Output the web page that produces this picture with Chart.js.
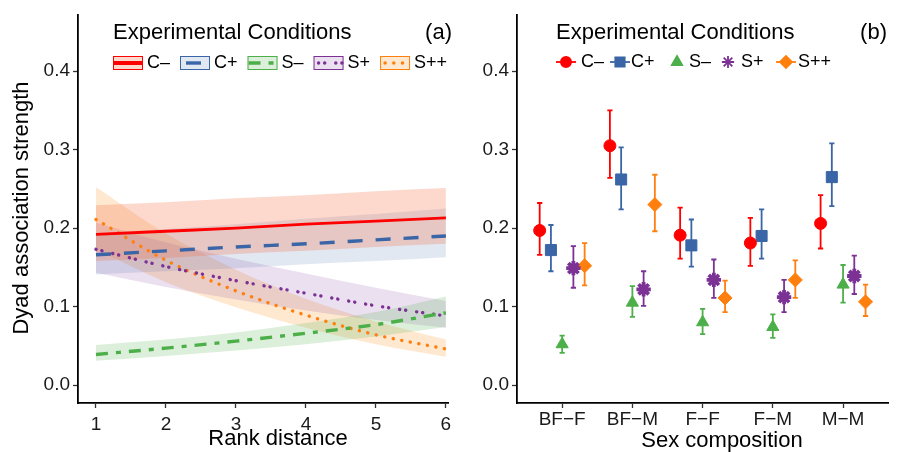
<!DOCTYPE html>
<html>
<head>
<meta charset="utf-8">
<script src="https://cdn.jsdelivr.net/npm/chart.js@4.4.1/dist/chart.umd.min.js"></script>
<style>
  body { margin: 0; background: #fff; }
  #wrap { position: relative; width: 899px; height: 452px; }
  #chartA { position: absolute; left: 0; top: 0; }
  #chartB { position: absolute; left: 460px; top: 0; }
</style>
</head>
<body>
<div id="wrap">
  <canvas id="chartA" width="460" height="452"></canvas>
  <canvas id="chartB" width="439" height="452"></canvas>
</div>
<script>
'use strict';

const conditions = ['C–', 'C+', 'S–', 'S+', 'S++'];
const yTicks = [0, 0.1, 0.2, 0.3, 0.4];

// Panel (a): fitted association strength against rank distance
const rankDistance = [1, 2, 3, 4, 5, 6];
const fitCminus = [0.192, 0.196, 0.200, 0.205, 0.209, 0.213];
const fitCplus  = [0.166, 0.171, 0.176, 0.180, 0.185, 0.190];
const fitSminus = [0.039, 0.047, 0.056, 0.066, 0.077, 0.092];
const fitSplus  = [0.173, 0.151, 0.133, 0.117, 0.101, 0.088];
const fitSplus2 = [0.211, 0.159, 0.120, 0.089, 0.064, 0.046];
// confidence bands (lower / upper)
const loCminus = [0.158, 0.162, 0.167, 0.171, 0.176, 0.180];
const hiCminus = [0.229, 0.233, 0.238, 0.242, 0.247, 0.251];
const loCplus  = [0.141, 0.145, 0.149, 0.154, 0.158, 0.163];
const hiCplus  = [0.193, 0.199, 0.205, 0.212, 0.218, 0.225];
const loSminus = [0.031, 0.037, 0.044, 0.052, 0.062, 0.074];
const hiSminus = [0.051, 0.058, 0.067, 0.079, 0.093, 0.113];
const loSplus  = [0.143, 0.125, 0.109, 0.095, 0.083, 0.073];
const hiSplus  = [0.207, 0.182, 0.161, 0.142, 0.124, 0.107];
const loSplus2 = [0.173, 0.131, 0.099, 0.073, 0.052, 0.036];
const hiSplus2 = [0.252, 0.193, 0.147, 0.110, 0.081, 0.058];

// Panel (b): mean and interval by sex composition
const sexComposition = ['BF−F', 'BF−M', 'F−F', 'F−M', 'M−M'];
const meanCminus = [0.197, 0.305, 0.191, 0.181, 0.206];
const lowCminus  = [0.166, 0.264, 0.161, 0.152, 0.174];
const highCminus = [0.232, 0.350, 0.226, 0.213, 0.242];
const meanCplus  = [0.172, 0.262, 0.178, 0.190, 0.265];
const lowCplus   = [0.145, 0.224, 0.151, 0.161, 0.228];
const highCplus  = [0.204, 0.303, 0.211, 0.224, 0.308];
const meanSminus = [0.052, 0.105, 0.080, 0.074, 0.128];
const lowSminus  = [0.041, 0.087, 0.065, 0.060, 0.105];
const highSminus = [0.063, 0.126, 0.097, 0.090, 0.153];
const meanSplus  = [0.149, 0.122, 0.134, 0.112, 0.139];
const lowSplus   = [0.124, 0.101, 0.111, 0.093, 0.116];
const highSplus  = [0.177, 0.145, 0.160, 0.134, 0.165];
const meanSplus2 = [0.152, 0.230, 0.111, 0.134, 0.106];
const lowSplus2  = [0.127, 0.196, 0.093, 0.111, 0.088];
const highSplus2 = [0.181, 0.268, 0.133, 0.159, 0.128];

// styling
const colors = ['#FF0000', '#3A65A6', '#4DAF4A', '#7B3294', '#FF7F0E'];
const bandColors = ['rgba(245,110,70,0.27)', 'rgba(58,101,166,0.15)', 'rgba(77,175,74,0.2)', 'rgba(123,50,148,0.15)', 'rgba(255,150,40,0.22)'];
const dashes = [[], [15, 13], [12, 8, 5, 8], [0.1, 6, 0.1, 11], [0.1, 8.6]];
const widths = [2.8, 3.4, 3.4, 3.4, 3.4];
const pointStyles = ['circle', 'rect', 'triangle', 'star', 'rectRot'];
const pointSizes = [6, 7.8, 7, 7.2, 7];
const dodge = [-0.32, -0.16, 0, 0.16, 0.32];
const FONT = '"Liberation Sans", Arial, sans-serif';

const fits = [fitCminus, fitCplus, fitSminus, fitSplus, fitSplus2];
const los = [loCminus, loCplus, loSminus, loSplus, loSplus2];
const his = [hiCminus, hiCplus, hiSminus, hiSplus, hiSplus2];
const means = [meanCminus, meanCplus, meanSminus, meanSplus, meanSplus2];
const lows = [lowCminus, lowCplus, lowSminus, lowSplus, lowSplus2];
const highs = [highCminus, highCplus, highSminus, highSplus, highSplus2];

function xy(arr) {
    return rankDistance.map((x, j) => ({x: x, y: arr[j]}));
}

function yScale(width) {
    return {
        type: 'linear',
        min: -0.0229,
        max: 0.4724,
        afterBuildTicks: s => { s.ticks = yTicks.map(v => ({value: v})); },
        afterFit: s => { s.width = width; },
        ticks: {color: '#1a1a1a', font: {family: FONT, size: 19}, padding: 3, callback: v => v.toFixed(1)},
        grid: {drawOnChartArea: false, color: '#333', tickLength: 5, tickWidth: 1.3},
        border: {color: '#000', width: 1.8}
    };
}

// ---------- panel (a) ----------
let datasetsA = [];
conditions.forEach(function(name, i) {
    datasetsA.push({label: name, data: xy(fits[i]), borderColor: colors[i], borderWidth: widths[i],
        borderDash: dashes[i], borderCapStyle: i >= 3 ? 'round' : 'butt', pointRadius: 0, fill: false, order: 0});
});
conditions.forEach(function(name, i) {
    datasetsA.push({label: name + ' low', data: xy(los[i]), borderWidth: 0, pointRadius: 0, fill: false, order: 1});
    datasetsA.push({label: name + ' high', data: xy(his[i]), borderWidth: 0, pointRadius: 0, fill: '-1',
        backgroundColor: bandColors[i], order: 1});
});

const decorA = {
    id: 'decorA',
    afterDraw(chart) {
        const ctx = chart.ctx;
        ctx.save();
        ctx.fillStyle = '#000';
        ctx.textBaseline = 'middle';
        ctx.font = '22px ' + FONT;
        ctx.textAlign = 'left';
        ctx.fillText('Experimental Conditions', 113, 33);
        ctx.textAlign = 'right';
        ctx.fillText('(a)', 452, 33);
        ctx.textAlign = 'center';
        ctx.fillText('Rank distance', 278, 439);
        ctx.save();
        ctx.translate(22, 208);
        ctx.rotate(-Math.PI / 2);
        ctx.fillText('Dyad association strength', 0, 0);
        ctx.restore();

        // legend keys
        ctx.font = '18px ' + FONT;
        ctx.textAlign = 'left';
        let x = 113;
        const y = 63;
        conditions.forEach(function(name, i) {
            ctx.fillStyle = bandColors[i];
            ctx.fillRect(x, y - 7, 30, 14);
            ctx.strokeStyle = colors[i];
            ctx.lineWidth = 1;
            ctx.setLineDash([]);
            ctx.strokeRect(x + 0.5, y - 6.5, 29, 13);
            ctx.beginPath();
            ctx.lineWidth = i === 0 ? 4 : widths[i];
            ctx.lineCap = i >= 3 ? 'round' : 'butt';
            ctx.setLineDash(dashes[i]);
            ctx.lineDashOffset = i === 1 ? -5 : (i >= 3 ? -4 : 0);
            ctx.moveTo(x + 1, y);
            ctx.lineTo(x + 29, y);
            ctx.stroke();
            ctx.lineDashOffset = 0;
            ctx.setLineDash([]);
            ctx.fillStyle = '#000';
            ctx.fillText(name, x + 34, y);
            x += 34 + ctx.measureText(name).width + 10;
        });
        ctx.restore();
    }
};

new Chart(document.getElementById('chartA'), {
    type: 'line',
    data: {datasets: datasetsA},
    options: {
        responsive: false,
        animation: false,
        layout: {padding: {top: 13, right: 12, left: 0, bottom: 0}},
        elements: {line: {cubicInterpolationMode: 'monotone'}},
        plugins: {legend: {display: false}, tooltip: {enabled: false}},
        scales: {
            x: {
                type: 'linear',
                min: 0.743,
                max: 6.03,
                afterBuildTicks: s => { s.ticks = rankDistance.map(v => ({value: v})); },
                afterFit: s => { s.height = 49; },
                ticks: {color: '#1a1a1a', font: {family: FONT, size: 19}, padding: 5},
                grid: {drawOnChartArea: false, color: '#333', tickLength: 5, tickWidth: 1.3},
                border: {color: '#000', width: 1.8}
            },
            y: yScale(78)
        }
    },
    plugins: [decorA]
});

// ---------- panel (b) ----------
const datasetsB = conditions.map(function(name, i) {
    return {
        label: name,
        data: sexComposition.map((g, j) => ({x: j + 1 + dodge[i], y: means[i][j], lo: lows[i][j], hi: highs[i][j]})),
        pointStyle: pointStyles[i],
        pointRadius: pointSizes[i],
        pointBackgroundColor: colors[i],
        pointBorderColor: colors[i],
        pointBorderWidth: i === 3 ? 3.8 : 1
    };
});

const errorBars = {
    id: 'errorBars',
    beforeDatasetsDraw(chart) {
        const ctx = chart.ctx;
        const xs = chart.scales.x, ys = chart.scales.y;
        ctx.save();
        ctx.lineWidth = 1.8;
        chart.data.datasets.forEach(function(ds, i) {
            ctx.strokeStyle = colors[i];
            ds.data.forEach(function(p) {
                const px = xs.getPixelForValue(p.x);
                const top = ys.getPixelForValue(p.hi);
                const bot = ys.getPixelForValue(p.lo);
                ctx.beginPath();
                ctx.moveTo(px, top);
                ctx.lineTo(px, bot);
                ctx.moveTo(px - 2.6, top);
                ctx.lineTo(px + 2.6, top);
                ctx.moveTo(px - 2.6, bot);
                ctx.lineTo(px + 2.6, bot);
                ctx.stroke();
            });
        });
        ctx.restore();
    }
};

const decorB = {
    id: 'decorB',
    afterDraw(chart) {
        const ctx = chart.ctx;
        ctx.save();
        ctx.fillStyle = '#000';
        ctx.textBaseline = 'middle';
        ctx.font = '22px ' + FONT;
        ctx.textAlign = 'left';
        ctx.fillText('Experimental Conditions', 96, 33);
        ctx.textAlign = 'right';
        ctx.fillText('(b)', 427, 33);
        ctx.textAlign = 'center';
        ctx.fillText('Sex composition', 262, 441);

        // legend keys
        const markX = [106, 160, 217, 268, 326];
        const labelX = [121, 171, 229, 281, 338];
        const y = 62;
        ctx.font = '18px ' + FONT;
        ctx.textAlign = 'left';
        conditions.forEach(function(name, i) {
            ctx.strokeStyle = colors[i];
            ctx.fillStyle = colors[i];
            if (i === 0 || i === 1 || i === 4) {
                ctx.lineWidth = 1.8;
                ctx.beginPath();
                ctx.moveTo(markX[i] - 10, y);
                ctx.lineTo(markX[i] + 10, y);
                ctx.stroke();
            }
            Chart.helpers.drawPoint(ctx, {pointStyle: pointStyles[i], radius: pointSizes[i] * 0.85, rotation: 0,
                borderWidth: i === 3 ? 3.4 : 1}, markX[i], y);
            ctx.fillStyle = '#000';
            ctx.fillText(name, labelX[i], y);
        });
        ctx.restore();
    }
};

new Chart(document.getElementById('chartB'), {
    type: 'scatter',
    data: {datasets: datasetsB},
    options: {
        responsive: false,
        animation: false,
        layout: {padding: {top: 13, right: 4, left: 0, bottom: 0}},
        plugins: {legend: {display: false}, tooltip: {enabled: false}},
        scales: {
            x: {
                type: 'linear',
                min: 0.357,
                max: 5.64,
                afterBuildTicks: s => { s.ticks = sexComposition.map((g, j) => ({value: j + 1})); },
                afterFit: s => { s.height = 49; },
                ticks: {color: '#1a1a1a', font: {family: FONT, size: 19}, padding: 0,
                    callback: v => sexComposition[Math.round(v) - 1]},
                grid: {drawOnChartArea: false, color: '#333', tickLength: 5, tickWidth: 1.3},
                border: {color: '#000', width: 1.8}
            },
            y: yScale(57)
        }
    },
    plugins: [errorBars, decorB]
});
</script>
</body>
</html>
